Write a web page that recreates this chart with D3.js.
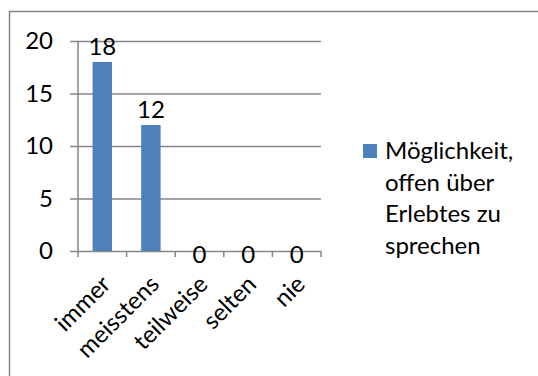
<!DOCTYPE html>
<html>
<head>
<meta charset="utf-8">
<script src="https://cdn.jsdelivr.net/npm/d3@7"></script>
<style>
  html, body { margin: 0; padding: 0; background: #fff; }
  svg { display: block; }
  text { font-family: Lato, "Open Sans", sans-serif; fill: #000; }
</style>
</head>
<body>
<svg id="chart" width="538" height="376"></svg>
<script>
// Survey answers: how often there was a chance to talk openly about experiences
const categories = ["immer", "meisstens", "teilweise", "selten", "nie"];
const values = [18, 12, 0, 0, 0];
const yTicks = [0, 5, 10, 15, 20];
const seriesName = ["Möglichkeit,", "offen über", "Erlebtes zu", "sprechen"];

const svg = d3.select("#chart");
const W = 538, H = 376;
const gridColor = "#868686";
const barColor = "#4F81BD";
const fontSize = 24;

// outer chart frame
svg.append("rect")
  .attr("x", 9.5).attr("y", 11.5)
  .attr("width", W + 10).attr("height", H + 10)
  .attr("fill", "none").attr("stroke", gridColor).attr("stroke-width", 1.5);

const plot = { left: 78, right: 321, top: 41, bottom: 251 };

const x = d3.scaleBand().domain(categories)
  .range([plot.left, plot.right]).paddingInner(0).paddingOuter(0);
const y = d3.scaleLinear().domain([0, 20]).range([plot.bottom, plot.top]);

// horizontal gridlines with short ticks left of the axis
const yAxis = d3.axisLeft(y).tickValues(yTicks)
  .tickSize(-(plot.right - plot.left)).tickPadding(25).tickFormat(d3.format("d"));
const gy = svg.append("g").attr("transform", `translate(${plot.left},0)`).call(yAxis);
gy.select(".domain").remove();
gy.selectAll(".tick line").attr("stroke", gridColor).attr("stroke-width", 1.5)
  .attr("x1", -8);
gy.selectAll(".tick text").attr("font-size", fontSize).style("font-family", "Lato, sans-serif");

// vertical value axis line
svg.append("line")
  .attr("x1", plot.left).attr("x2", plot.left)
  .attr("y1", plot.top).attr("y2", plot.bottom)
  .attr("stroke", gridColor).attr("stroke-width", 1.5);

// category axis tick marks at band boundaries
const bounds = categories.map(c => x(c)).concat([plot.right]);
svg.append("g").selectAll("line").data(bounds).join("line")
  .attr("x1", d => d).attr("x2", d => d)
  .attr("y1", plot.bottom).attr("y2", plot.bottom + 6)
  .attr("stroke", gridColor).attr("stroke-width", 1.5);

// bars (gap width 150%)
const barW = x.bandwidth() / 2.5;
svg.append("g").selectAll("rect").data(values).join("rect")
  .attr("x", (d, i) => x(categories[i]) + (x.bandwidth() - barW) / 2)
  .attr("y", d => y(d))
  .attr("width", barW)
  .attr("height", d => y(0) - y(d))
  .attr("fill", barColor);

// value labels
svg.append("g").selectAll("text").data(values).join("text")
  .attr("x", (d, i) => x(categories[i]) + x.bandwidth() / 2)
  .attr("y", d => d > 0 ? y(d) - 7 : y(0) + 12)
  .attr("text-anchor", "middle")
  .attr("font-size", fontSize)
  .text(d => d);

// rotated category labels
svg.append("g").selectAll("text").data(categories).join("text")
  .attr("text-anchor", "end")
  .attr("font-size", fontSize)
  .attr("transform", d => `translate(${x(d) + x.bandwidth() / 2 - 3},${plot.bottom + 22}) rotate(-45)`)
  .attr("dy", "0.75em")
  .text(d => d);

// legend
const lg = svg.append("g");
lg.append("rect").attr("x", 363).attr("y", 144).attr("width", 14).attr("height", 14).attr("fill", barColor);
lg.selectAll("text").data(seriesName).join("text")
  .attr("x", 385)
  .attr("y", (d, i) => 159 + i * 31.5)
  .attr("font-size", fontSize)
  .text(d => d);
</script>
</body>
</html>
